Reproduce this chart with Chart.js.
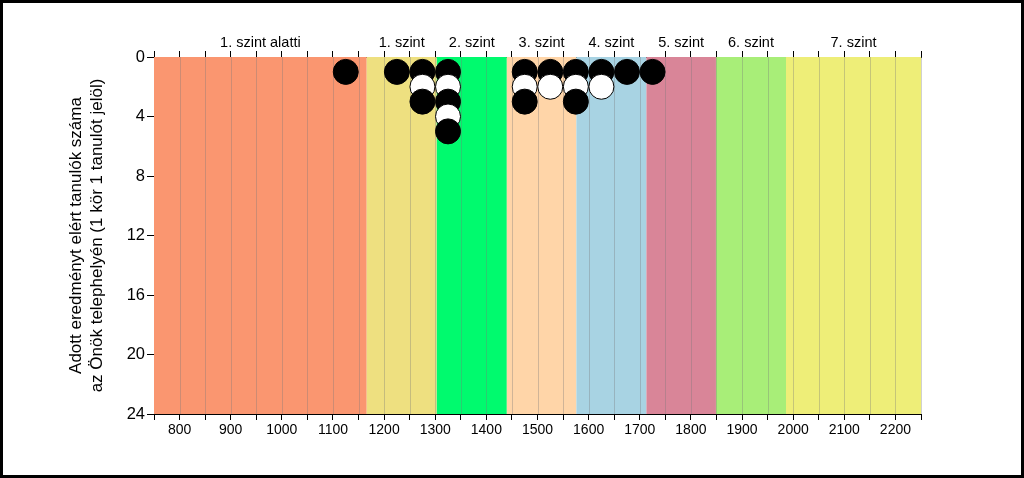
<!DOCTYPE html>
<html>
<head>
<meta charset="utf-8">
<script src="https://cdn.jsdelivr.net/npm/chart.js@4/dist/chart.umd.min.js"></script>
<style>
  html, body { margin: 0; padding: 0; background: #fff; }
  #wrap { position: absolute; left: 0; top: 0; width: 1024px; height: 478px; }
</style>
</head>
<body>
<div id="wrap"><canvas id="c" width="1024" height="478"></canvas></div>
<script>
// ---- data ----
const scores = [1125, 1225, 1275, 1325, 1475, 1525, 1575, 1625, 1675, 1725];
const counts = [1, 1, 3, 5, 3, 2, 3, 2, 1, 1];
const levelEdges = [750, 1166, 1303, 1440, 1576, 1713, 1849, 1986, 2250];
const levelLabels = ['1. szint alatti', '1. szint', '2. szint', '3. szint', '4. szint', '5. szint', '6. szint', '7. szint'];
const yTitle = ['Adott eredményt elért tanulók száma', 'az Önök telephelyén (1 kör 1 tanulót jelöl)'];

// ---- styles ----
const levelColors = ['#FA9670', '#EEE080', '#00FA6E', '#FFD5A8', '#A8D3E3', '#D98598', '#A8EE78', '#EEEE78'];
const FONT = 'Arial, "Liberation Sans", sans-serif';

const points = [];
scores.forEach((s, i) => {
  for (let k = 1; k <= counts[i]; k++) points.push({ x: s, y: k });
});

const bandsPlugin = {
  id: 'bands',
  beforeDatasetsDraw(chart) {
    const { ctx, chartArea: a, scales } = chart;
    const x = scales.x;
    ctx.save();
    for (let i = 0; i < levelColors.length; i++) {
      const x0 = x.getPixelForValue(levelEdges[i]);
      const x1 = x.getPixelForValue(levelEdges[i + 1]);
      ctx.fillStyle = levelColors[i];
      ctx.fillRect(x0, a.top, x1 - x0, a.bottom - a.top);
    }
    // vertical grid lines
    ctx.strokeStyle = 'rgba(120,120,120,0.35)';
    ctx.lineWidth = 1;
    for (let v = 800; v <= 2250; v += 50) {
      const px = Math.round(x.getPixelForValue(v)) + 0.5;
      ctx.beginPath();
      ctx.moveTo(px, a.top);
      ctx.lineTo(px, a.bottom);
      ctx.stroke();
    }
    ctx.restore();
  },
  afterDraw(chart) {
    const { ctx, chartArea: a, scales } = chart;
    const x = scales.x;
    ctx.save();
    // level labels on top
    ctx.fillStyle = '#000';
    ctx.font = '14.5px ' + FONT;
    ctx.textAlign = 'center';
    ctx.textBaseline = 'middle';
    for (let i = 0; i < levelLabels.length; i++) {
      const c = (x.getPixelForValue(levelEdges[i]) + x.getPixelForValue(levelEdges[i + 1])) / 2;
      ctx.fillText(levelLabels[i], c, 43);
    }
    // y title
    ctx.font = '17px ' + FONT;
    ctx.translate(87, (a.top + a.bottom) / 2);
    ctx.rotate(-Math.PI / 2);
    ctx.fillText(yTitle[0], 0, -11);
    ctx.fillText(yTitle[1], 0, 10);
    ctx.restore();
    // frame
    ctx.save();
    ctx.strokeStyle = '#000';
    ctx.lineWidth = 3;
    ctx.strokeRect(1.5, 1.5, chart.width - 3, chart.height - 3);
    ctx.restore();
  }
};

new Chart(document.getElementById('c'), {
  type: 'scatter',
  data: {
    datasets: [{
      data: points,
      pointRadius: 12.5,
      pointHoverRadius: 12.5,
      borderWidth: 1,
      borderColor: '#000',
      backgroundColor: (c) => (c.raw && c.raw.y % 2 === 1) ? '#000' : '#fff',
      clip: false
    }]
  },
  options: {
    responsive: false,
    animation: false,
    events: [],
    layout: { padding: { left: 0, right: 103, top: 0, bottom: 0 } },
    plugins: { legend: { display: false }, tooltip: { enabled: false } },
    scales: {
      x: {
        type: 'linear', position: 'bottom', min: 750, max: 2250,
        afterFit(s) { s.height = 64; },
        afterBuildTicks(s) { s.ticks = []; for (let v = 750; v <= 2250; v += 50) s.ticks.push({ value: v }); },
        ticks: {
          autoSkip: false, maxRotation: 0, color: '#000', padding: 2,
          font: { family: FONT, size: 14 },
          callback: (v) => (v % 100 === 0 ? String(v) : '')
        },
        grid: { drawOnChartArea: false, tickLength: 6, tickColor: '#000' },
        border: { color: '#000', width: 1 }
      },
      x2: {
        type: 'linear', position: 'top', min: 750, max: 2250,
        afterFit(s) { s.height = 57; },
        afterBuildTicks(s) { s.ticks = []; for (let v = 750; v <= 2250; v += 50) s.ticks.push({ value: v }); },
        ticks: { display: true, callback: () => '' },
        grid: { drawOnChartArea: false, tickLength: 6, tickColor: '#000' },
        border: { color: '#000', width: 1 }
      },
      y: {
        type: 'linear', reverse: true, min: 0, max: 24,
        afterFit(s) { s.width = 154; },
        ticks: { stepSize: 4, color: '#000', padding: 2, font: { family: FONT, size: 16.5 } },
        grid: { drawOnChartArea: false, tickLength: 7, tickColor: '#000' },
        border: { color: '#000', width: 1 }
      }
    }
  },
  plugins: [bandsPlugin]
});
</script>
</body>
</html>
